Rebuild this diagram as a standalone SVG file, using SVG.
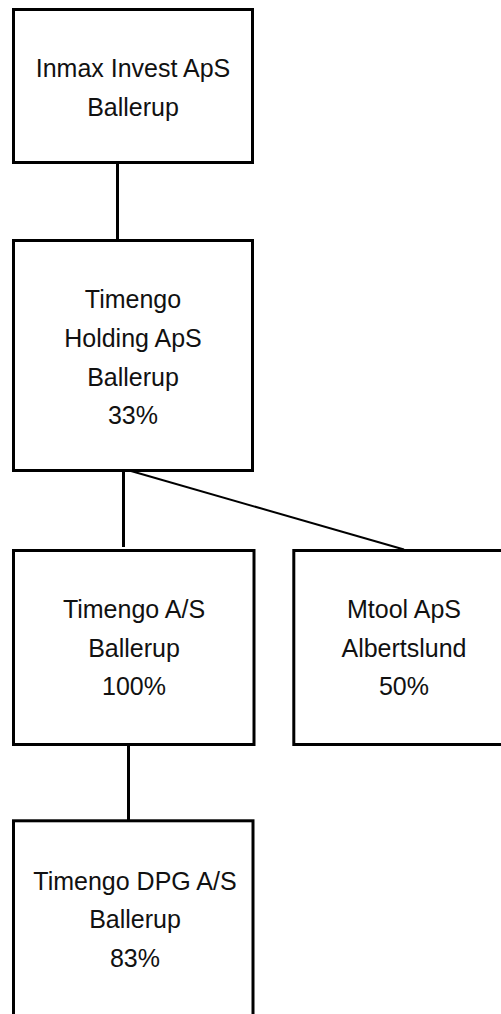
<svg xmlns="http://www.w3.org/2000/svg" width="501" height="1014" viewBox="0 0 501 1014">
  <style>
    .box { fill: #ffffff; stroke: #000000; stroke-width: 3; }
    .lbl { font-family: "Liberation Sans", Arial, sans-serif; font-size: 25px; fill: #111111; text-anchor: middle; }
    .conn { stroke: #000000; stroke-width: 3; fill: none; }
    .diag { stroke: #000000; stroke-width: 2; fill: none; }
  </style>
  <rect width="501" height="1014" fill="#ffffff"/>
  <g id="connectors">
    <line class="conn" x1="117.5" y1="162" x2="117.5" y2="240"/>
    <line class="conn" x1="123.5" y1="469" x2="123.5" y2="547"/>
    <line class="diag" x1="124" y1="469" x2="404" y2="549.5"/>
    <line class="conn" x1="128.5" y1="744" x2="128.5" y2="821"/>
  </g>
  <g id="inmax">
    <rect class="box" x="13.5" y="9.5" width="239" height="153"/>
    <text class="lbl" x="133" y="77">Inmax Invest ApS</text>
    <text class="lbl" x="133" y="116">Ballerup</text>
  </g>
  <g id="timengo-holding">
    <rect class="box" x="13.5" y="240.5" width="239" height="230"/>
    <text class="lbl" x="133" y="308">Timengo</text>
    <text class="lbl" x="133" y="347">Holding ApS</text>
    <text class="lbl" x="133" y="386">Ballerup</text>
    <text class="lbl" x="133" y="424">33%</text>
  </g>
  <g id="timengo-as">
    <rect class="box" x="13.5" y="550.5" width="240.5" height="194"/>
    <text class="lbl" x="134" y="618">Timengo A/S</text>
    <text class="lbl" x="134" y="657">Ballerup</text>
    <text class="lbl" x="134" y="695">100%</text>
  </g>
  <g id="mtool">
    <rect class="box" x="293.8" y="550.5" width="240" height="194"/>
    <text class="lbl" x="404" y="618">Mtool ApS</text>
    <text class="lbl" x="404" y="657">Albertslund</text>
    <text class="lbl" x="404" y="695">50%</text>
  </g>
  <g id="timengo-dpg">
    <rect class="box" x="13.5" y="820.8" width="239.5" height="230"/>
    <text class="lbl" x="135" y="890">Timengo DPG A/S</text>
    <text class="lbl" x="135" y="928">Ballerup</text>
    <text class="lbl" x="135" y="967">83%</text>
  </g>
</svg>
